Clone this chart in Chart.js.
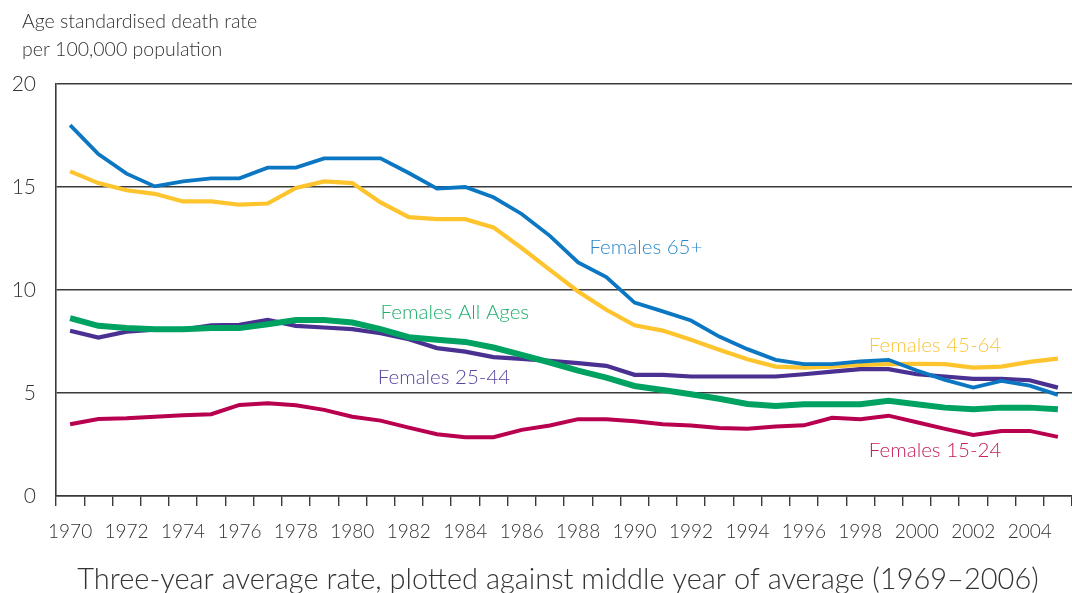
<!DOCTYPE html>
<html>
<head>
<meta charset="utf-8">
<script src="https://cdn.jsdelivr.net/npm/chart.js@4/dist/chart.umd.min.js"></script>
<style>
  html, body { margin: 0; padding: 0; background: #ffffff; overflow: hidden; }
  #wrap { width: 1072px; height: 593px; position: relative; }
</style>
</head>
<body>
<div id="wrap"><canvas id="c" width="1072" height="593"></canvas></div>
<script>
const years = ['1970','1971','1972','1973','1974','1975','1976','1977','1978','1979',
  '1980','1981','1982','1983','1984','1985','1986','1987','1988','1989',
  '1990','1991','1992','1993','1994','1995','1996','1997','1998','1999',
  '2000','2001','2002','2003','2004','2005'];

const females65plus = [18.0,16.6,15.65,15.03,15.27,15.42,15.42,15.94,15.94,16.39,
  16.39,16.39,15.68,14.92,15.0,14.5,13.69,12.63,11.34,10.63,
  9.39,8.96,8.52,7.74,7.13,6.61,6.40,6.40,6.53,6.61,
  6.09,5.64,5.26,5.59,5.36,4.91];

const females45to64 = [15.76,15.19,14.84,14.67,14.3,14.3,14.14,14.2,14.95,15.27,
  15.19,14.25,13.54,13.44,13.44,13.04,12.04,10.98,9.93,9.04,
  8.29,8.03,7.58,7.1,6.64,6.28,6.23,6.28,6.37,6.40,
  6.41,6.40,6.23,6.28,6.51,6.67];

const femalesAllAges = [8.63,8.26,8.16,8.1,8.1,8.15,8.15,8.34,8.54,8.54,
  8.42,8.1,7.71,7.58,7.48,7.21,6.85,6.48,6.09,5.75,
  5.34,5.15,4.94,4.72,4.47,4.37,4.45,4.45,4.45,4.62,
  4.45,4.29,4.21,4.29,4.29,4.21];

const females25to44 = [8.02,7.69,7.98,8.07,8.08,8.29,8.31,8.55,8.26,8.18,
  8.1,7.9,7.61,7.18,7.01,6.74,6.66,6.56,6.45,6.32,
  5.88,5.88,5.8,5.8,5.8,5.8,5.91,6.04,6.16,6.16,
  5.91,5.8,5.69,5.69,5.62,5.26];

const females15to24 = [3.48,3.74,3.77,3.85,3.92,3.97,4.42,4.5,4.41,4.18,
  3.85,3.66,3.32,3.0,2.85,2.85,3.21,3.42,3.73,3.73,
  3.63,3.48,3.42,3.3,3.26,3.37,3.43,3.80,3.73,3.9,
  3.58,3.26,2.96,3.16,3.16,2.87];

const yTicks = [0, 5, 10, 15, 20];
const yTitleLines = ['Age standardised death rate', 'per 100,000 population'];
const xTitle = 'Three-year average rate, plotted against middle year of average (1969\u20132006)';

// series labels, anchored in data coordinates (year, rate)
const labelTexts  = ['Females 65+', 'Females All Ages', 'Females 45-64', 'Females 25-44', 'Females 15-24'];
const labelYears  = [1988.4, 1981.0, 1998.3, 1980.9, 1998.3];
const labelValues = [12.05, 8.9, 7.29, 5.78, 2.19];
const labelColors = ['#2a88cc', '#1fae6c', '#fcc53a', '#5a44a0', '#c4205c'];

const FONT = 'Lato, "Open Sans", "DejaVu Sans", sans-serif';
const AXIS = '#3a3a3a';
const TEXT = '#333333';

const annotate = {
  id: 'annotate',
  afterDraw(chart) {
    const ctx = chart.ctx;
    const xs = chart.scales.x, ys = chart.scales.y;
    ctx.save();
    ctx.font = '300 20.5px ' + FONT;
    ctx.textAlign = 'left';
    ctx.textBaseline = 'middle';
    for (let i = 0; i < labelTexts.length; i++) {
      const px = xs.getPixelForValue(labelYears[i] - 1970);
      const py = ys.getPixelForValue(labelValues[i]);
      ctx.fillStyle = labelColors[i];
      ctx.fillText(labelTexts[i], px, py);
    }
    ctx.fillStyle = TEXT;
    ctx.font = '300 19.5px ' + FONT;
    ctx.textBaseline = 'alphabetic';
    ctx.fillText(yTitleLines[0], 22, 28);
    ctx.fillText(yTitleLines[1], 22, 56);
    ctx.font = '300 29px ' + FONT;
    ctx.textAlign = 'center';
    ctx.fillText(xTitle, 558, 589);
    ctx.restore();
  }
};

new Chart(document.getElementById('c'), {
  type: 'line',
  data: {
    labels: years,
    datasets: [
      { label: 'Females All Ages', data: femalesAllAges, borderColor: '#00a261', borderWidth: 6, order: 0 },
      { label: 'Females 65+', data: females65plus, borderColor: '#0b77c2', borderWidth: 3.8, order: 1 },
      { label: 'Females 45-64', data: females45to64, borderColor: '#fec42e', borderWidth: 4.2, order: 2 },
      { label: 'Females 25-44', data: females25to44, borderColor: '#4a3090', borderWidth: 4.2, order: 3 },
      { label: 'Females 15-24', data: females15to24, borderColor: '#b8004f', borderWidth: 4, order: 4 }
    ]
  },
  options: {
    responsive: false,
    animation: false,
    events: [],
    elements: {
      point: { radius: 0 },
      line: { tension: 0, fill: false, borderCapStyle: 'butt', borderJoinStyle: 'miter' }
    },
    layout: { padding: { top: 84, left: 0, right: 0, bottom: 0 } },
    plugins: {
      legend: { display: false },
      tooltip: { enabled: false },
      title: { display: false }
    },
    scales: {
      x: {
        type: 'category',
        offset: true,
        afterFit(scale) { scale.height = 97; },
        grid: {
          display: true, drawOnChartArea: false, drawTicks: true,
          tickLength: 10, offset: true, color: AXIS, lineWidth: 1.4
        },
        border: { display: true, color: AXIS, width: 1.6 },
        ticks: {
          autoSkip: false, maxRotation: 0, minRotation: 0, padding: 14,
          color: TEXT, font: { family: FONT, size: 19, weight: 300 },
          callback(value, index) {
            const y = parseInt(years[index], 10);
            return (y % 2 === 0) ? years[index] : '';
          }
        },
        title: { display: false }
      },
      y: {
        min: 0, max: 20,
        afterFit(scale) { scale.width = 56; },
        afterBuildTicks(scale) { scale.ticks = yTicks.map(v => ({ value: v })); },
        grid: { display: true, drawTicks: false, tickLength: 0, color: AXIS, lineWidth: 1.4 },
        border: { display: true, color: AXIS, width: 1.6 },
        ticks: {
          padding: 20, color: TEXT, font: { family: FONT, size: 21, weight: 300 }
        }
      }
    }
  },
  plugins: [annotate]
});
</script>
</body>
</html>
